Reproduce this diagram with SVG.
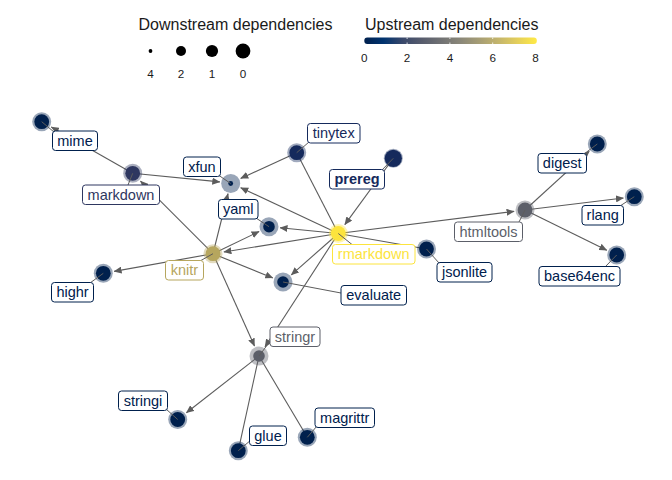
<svg xmlns="http://www.w3.org/2000/svg" width="672" height="480" viewBox="0 0 672 480">
<style>
text{font-family:"Liberation Sans",Arial,sans-serif}
.e{stroke:#5c5c5c;stroke-width:1.1;fill:none}
.ea{marker-end:url(#arr)}
.seg{stroke:#5c5c5c;stroke-width:1}
.lb{fill:#fff;stroke-width:1}
.lt{font-size:14.5px;text-anchor:middle}
.lg{font-size:16px;fill:#1a1a1a}
.tk{font-size:11.7px;fill:#1a1a1a;text-anchor:middle}
.halo{opacity:0.4}
</style>
<defs>
<marker id="arr" markerUnits="userSpaceOnUse" markerWidth="8" markerHeight="7" viewBox="0 0 8 7" refX="7.5" refY="3.5" orient="auto">
<path d="M0,0 L8,3.5 L0,7 z" fill="#5c5c5c"/>
</marker>
<linearGradient id="civ" x1="0" y1="0" x2="1" y2="0">
<stop offset="0" stop-color="#00204D"/>
<stop offset="0.111" stop-color="#00336F"/>
<stop offset="0.222" stop-color="#39486B"/>
<stop offset="0.333" stop-color="#575C6D"/>
<stop offset="0.444" stop-color="#707173"/>
<stop offset="0.556" stop-color="#8A8779"/>
<stop offset="0.667" stop-color="#A69D75"/>
<stop offset="0.778" stop-color="#C4B56C"/>
<stop offset="0.889" stop-color="#E4CF5B"/>
<stop offset="1" stop-color="#FFEA46"/>
</linearGradient>
</defs>
<rect width="672" height="480" fill="#fff"/>

<g id="legend">
<text class="lg" x="138.5" y="30">Downstream dependencies</text>
<circle cx="150.5" cy="51" r="1.9" fill="#000"/>
<circle cx="181" cy="51" r="5" fill="#000"/>
<circle cx="212" cy="51" r="6.1" fill="#000"/>
<circle cx="243" cy="51" r="7.4" fill="#000"/>
<text class="tk" x="150.5" y="78">4</text>
<text class="tk" x="181" y="78">2</text>
<text class="tk" x="212" y="78">1</text>
<text class="tk" x="243" y="78">0</text>
<text class="lg" x="365" y="30">Upstream dependencies</text>
<rect x="364.3" y="37.5" width="172.5" height="6.5" rx="3" fill="url(#civ)"/>
<g stroke="#fff" stroke-width="0.8">
<line x1="407.1" y1="37.5" x2="407.1" y2="39"/><line x1="407.1" y1="42.5" x2="407.1" y2="44"/>
<line x1="449.9" y1="37.5" x2="449.9" y2="39"/><line x1="449.9" y1="42.5" x2="449.9" y2="44"/>
<line x1="492.7" y1="37.5" x2="492.7" y2="39"/><line x1="492.7" y1="42.5" x2="492.7" y2="44"/>
</g>
<text class="tk" x="364.3" y="62">0</text>
<text class="tk" x="407.1" y="62">2</text>
<text class="tk" x="449.9" y="62">4</text>
<text class="tk" x="492.7" y="62">6</text>
<text class="tk" x="535.5" y="62">8</text>
</g>

<g id="connectors">
<path class="e ea" d="M132.7,173.3 L51.3,127.1"/>
<path class="e ea" d="M132.7,173.3 L219.8,181.9"/>
<path class="e ea" d="M213,253.7 L140.5,181.1"/>
<path class="e ea" d="M213,253.7 L228,193.7"/>
<path class="e ea" d="M213,253.7 L259.1,231.5"/>
<path class="e ea" d="M213,253.7 L272.8,277.9"/>
<path class="e ea" d="M213,253.7 L114.1,271.4"/>
<path class="e ea" d="M213,253.7 L254.5,346"/>
<path class="e ea" d="M296.7,152.7 L240.7,178.4"/>
<path class="e" d="M338.3,233.5 L296.7,152.7"/>
<path class="e ea" d="M338.3,233.5 L240.7,187.7"/>
<path class="e ea" d="M338.3,233.5 L280,227.8"/>
<path class="e ea" d="M338.3,233.5 L223.9,252"/>
<path class="e ea" d="M338.3,233.5 L291.3,274.8"/>
<path class="e ea" d="M338.3,233.5 L265,346.8"/>
<path class="e ea" d="M338.3,233.5 L514.1,211.4"/>
<path class="e" d="M338.3,233.5 L426.5,249"/>
<path class="e ea" d="M393.3,158.3 L344.8,224.6"/>
<path class="e ea" d="M525,210 L589.2,151.4"/>
<path class="e ea" d="M525,210 L623.4,198"/>
<path class="e ea" d="M525,210 L606.8,250.2"/>
<path class="e ea" d="M259,356 L186.4,412.7"/>
<path class="e" d="M259,356 L238.3,450.7"/>
<path class="e" d="M259,356 L307.3,437.3"/>
</g>

<g id="mime">
<circle class="halo" cx="41.7" cy="121.7" r="9.5" fill="#00204D"/>
<circle cx="41.7" cy="121.7" r="7.4" fill="#00204D"/>
<line class="seg" x1="54" y1="132" x2="41.7" y2="121.7"/>
<rect class="lb" x="52.5" y="131" width="45" height="19.5" rx="3" stroke="#00204D"/>
<text class="lt" x="75" y="145.8" fill="#00204D">mime</text>
</g>
<g id="markdown">
<circle class="halo" cx="132.7" cy="173.3" r="9.5" fill="#2E3760"/>
<circle cx="132.7" cy="173.3" r="7.4" fill="#2E3760"/>
<line class="seg" x1="128" y1="185" x2="132.7" y2="173.3"/>
<rect class="lb" x="82.5" y="185" width="77" height="19.5" rx="3" stroke="#2E3760"/>
<text class="lt" x="121" y="199.8" fill="#2E3760">markdown</text>
</g>
<g id="xfun">
<circle class="halo" cx="230.7" cy="183.5" r="9.5" fill="#00204D"/>
<circle cx="230.7" cy="183.5" r="2.4" fill="#00204D"/>
<line class="seg" x1="219" y1="175.5" x2="230.7" y2="183.5"/>
<rect class="lb" x="183.5" y="157" width="37" height="19.5" rx="3" stroke="#00204D"/>
<text class="lt" x="202" y="171.8" fill="#00204D">xfun</text>
</g>
<g id="tinytex">
<circle class="halo" cx="296.7" cy="152.7" r="9.5" fill="#152A5C"/>
<circle cx="296.7" cy="152.7" r="7.4" fill="#152A5C"/>
<line class="seg" x1="309" y1="142" x2="296.7" y2="152.7"/>
<rect class="lb" x="307.5" y="123.5" width="52.5" height="19.5" rx="3" stroke="#152A5C"/>
<text class="lt" x="333.7" y="138.3" fill="#152A5C">tinytex</text>
</g>
<g id="prereg">
<circle class="halo" cx="393.3" cy="158.3" r="9.5" fill="#152A5C"/>
<circle cx="393.3" cy="158.3" r="8.6" fill="#152A5C"/>
<line class="seg" x1="382" y1="170" x2="393.3" y2="158.3"/>
<rect class="lb" x="329.5" y="169.5" width="55" height="19.5" rx="3" stroke="#152A5C"/>
<text class="lt" x="357" y="184.3" fill="#152A5C" font-weight="bold">prereg</text>
</g>
<g id="yaml">
<circle class="halo" cx="269" cy="226.7" r="9.5" fill="#00204D"/>
<circle cx="269" cy="226.7" r="5.8" fill="#00204D"/>
<line class="seg" x1="256" y1="218" x2="269" y2="226.7"/>
<rect class="lb" x="218.5" y="199.5" width="39.5" height="19.5" rx="3" stroke="#00204D"/>
<text class="lt" x="238.2" y="214.3" fill="#00204D">yaml</text>
</g>
<g id="rmarkdown">
<circle class="halo" cx="338.3" cy="233.5" r="9.5" fill="#FCE43D"/>
<circle cx="338.3" cy="233.5" r="7.4" fill="#FCE43D"/>
<line class="seg" x1="352" y1="244.5" x2="338.3" y2="233.5"/>
<rect class="lb" x="332.5" y="244.5" width="82.5" height="19.5" rx="3" stroke="#FCE43D"/>
<text class="lt" x="373.7" y="259.3" fill="#FCE43D">rmarkdown</text>
</g>
<g id="jsonlite">
<circle class="halo" cx="426.5" cy="249" r="9.5" fill="#00204D"/>
<circle cx="426.5" cy="249" r="7.4" fill="#00204D"/>
<line class="seg" x1="439" y1="263" x2="426.5" y2="249"/>
<rect class="lb" x="437" y="262.5" width="55" height="19.5" rx="3" stroke="#00204D"/>
<text class="lt" x="464.5" y="277.3" fill="#00204D">jsonlite</text>
</g>
<g id="knitr">
<circle class="halo" cx="213" cy="253.7" r="9.5" fill="#B6A65E"/>
<circle cx="213" cy="253.7" r="7.4" fill="#B6A65E"/>
<line class="seg" x1="200" y1="261" x2="213" y2="253.7"/>
<rect class="lb" x="165.5" y="260.5" width="38" height="19.5" rx="3" stroke="#B6A65E"/>
<text class="lt" x="184.5" y="275.3" fill="#B6A65E">knitr</text>
</g>
<g id="evaluate">
<circle class="halo" cx="283" cy="282" r="9.5" fill="#00204D"/>
<circle cx="283" cy="282" r="5.8" fill="#00204D"/>
<line class="seg" x1="341" y1="293" x2="283" y2="282"/>
<rect class="lb" x="341" y="285.5" width="65.5" height="19.5" rx="3" stroke="#00204D"/>
<text class="lt" x="373.7" y="300.3" fill="#00204D">evaluate</text>
</g>
<g id="highr">
<circle class="halo" cx="103.3" cy="273.3" r="9.5" fill="#00204D"/>
<circle cx="103.3" cy="273.3" r="7.4" fill="#00204D"/>
<line class="seg" x1="90" y1="283" x2="103.3" y2="273.3"/>
<rect class="lb" x="51.5" y="282.5" width="42" height="19.5" rx="3" stroke="#00204D"/>
<text class="lt" x="72.5" y="297.3" fill="#00204D">highr</text>
</g>
<g id="stringr">
<circle class="halo" cx="259" cy="356" r="9.5" fill="#5C5F69"/>
<circle cx="259" cy="356" r="5.8" fill="#5C5F69"/>
<line class="seg" x1="271" y1="340" x2="259" y2="356"/>
<rect class="lb" x="270" y="327" width="50" height="19.5" rx="3" stroke="#5C5F69"/>
<text class="lt" x="295" y="341.8" fill="#5C5F69">stringr</text>
</g>
<g id="stringi">
<circle class="halo" cx="177.7" cy="419.5" r="9.5" fill="#00204D"/>
<circle cx="177.7" cy="419.5" r="7.4" fill="#00204D"/>
<line class="seg" x1="166" y1="409" x2="177.7" y2="419.5"/>
<rect class="lb" x="118.5" y="391" width="49" height="19.5" rx="3" stroke="#00204D"/>
<text class="lt" x="143" y="405.8" fill="#00204D">stringi</text>
</g>
<g id="glue">
<circle class="halo" cx="238.3" cy="450.7" r="9.5" fill="#00204D"/>
<circle cx="238.3" cy="450.7" r="7.4" fill="#00204D"/>
<line class="seg" x1="251" y1="440" x2="238.3" y2="450.7"/>
<rect class="lb" x="249.5" y="426" width="37" height="19.5" rx="3" stroke="#00204D"/>
<text class="lt" x="268" y="440.8" fill="#00204D">glue</text>
</g>
<g id="magrittr">
<circle class="halo" cx="307.3" cy="437.3" r="9.5" fill="#00204D"/>
<circle cx="307.3" cy="437.3" r="7.4" fill="#00204D"/>
<line class="seg" x1="317" y1="426" x2="307.3" y2="437.3"/>
<rect class="lb" x="315" y="408" width="59.5" height="19.5" rx="3" stroke="#00204D"/>
<text class="lt" x="344.7" y="422.8" fill="#00204D">magrittr</text>
</g>
<g id="htmltools">
<circle class="halo" cx="525" cy="210" r="9.5" fill="#5C5F69"/>
<circle cx="525" cy="210" r="7.4" fill="#5C5F69"/>
<line class="seg" x1="519" y1="222" x2="525" y2="210"/>
<rect class="lb" x="454.5" y="222" width="68" height="19.5" rx="3" stroke="#5C5F69"/>
<text class="lt" x="488.5" y="236.8" fill="#5C5F69">htmltools</text>
</g>
<g id="digest">
<circle class="halo" cx="597.3" cy="144" r="9.5" fill="#00204D"/>
<circle cx="597.3" cy="144" r="7.4" fill="#00204D"/>
<line class="seg" x1="584" y1="154" x2="597.3" y2="144"/>
<rect class="lb" x="538" y="153.5" width="48.5" height="19.5" rx="3" stroke="#00204D"/>
<text class="lt" x="562.2" y="168.3" fill="#00204D">digest</text>
</g>
<g id="rlang">
<circle class="halo" cx="634.3" cy="196.7" r="9.5" fill="#00204D"/>
<circle cx="634.3" cy="196.7" r="7.4" fill="#00204D"/>
<line class="seg" x1="620" y1="206" x2="634.3" y2="196.7"/>
<rect class="lb" x="582" y="205.5" width="41.5" height="19.5" rx="3" stroke="#00204D"/>
<text class="lt" x="602.7" y="220.3" fill="#00204D">rlang</text>
</g>
<g id="base64enc">
<circle class="halo" cx="616.7" cy="255" r="9.5" fill="#00204D"/>
<circle cx="616.7" cy="255" r="7.4" fill="#00204D"/>
<line class="seg" x1="605" y1="267" x2="616.7" y2="255"/>
<rect class="lb" x="539" y="266.5" width="81" height="19.5" rx="3" stroke="#00204D"/>
<text class="lt" x="579.5" y="281.3" fill="#00204D">base64enc</text>
</g>
</svg>
